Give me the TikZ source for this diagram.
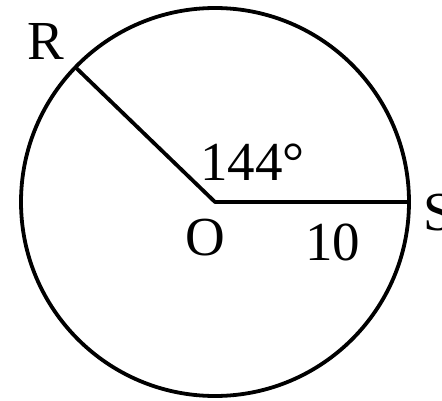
\documentclass[tikz,border=0pt]{standalone}
\usepackage{fontspec}
\setmainfont{Liberation Serif}
\usetikzlibrary{calc}
\begin{document}
\begin{tikzpicture}[x=1pt,y=1pt,
  edge/.style={line width=3.8pt},
  lab/.style={inner sep=0pt,anchor=base west,font=\fontsize{55}{60}\selectfont}]
\useasboundingbox (0,0) rectangle (442,400);
\coordinate (O) at (215,198);
\coordinate (S) at (409,198);
\coordinate (R) at ($(O)+(136:194)$);
\draw[edge] (O) circle[radius=194];
\draw[edge,line join=round] (R) -- (O) -- (S);
\node[lab] (lR) at (27,341) {R};
\node[lab] (lA) at (200,220) {144°};
\node[lab] (lO) at (185,145) {O};
\node[lab] (l10) at (305,140) {10};
\node[lab] (lS) at (423,170) {S};
\end{tikzpicture}
\end{document}
